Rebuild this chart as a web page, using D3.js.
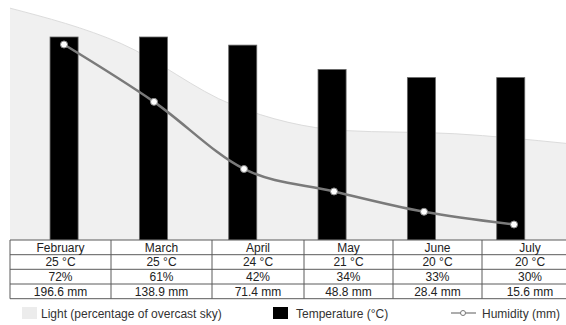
<!DOCTYPE html>
<html><head><meta charset="utf-8">
<script src="https://cdn.jsdelivr.net/npm/d3@7"></script>
<style>body{margin:0;background:#fff}svg{display:block;font-family:"Liberation Sans",Arial,sans-serif}</style>
</head><body>
<svg id="c" width="566" height="325"></svg>
<script>
const months = ["February","March","April","May","June","July"];
const temperature = [25,25,24,21,20,20];
const light = [72,61,42,34,33,30];
const humidity = [196.6,138.9,71.4,48.8,28.4,15.6];
const tempLabels = ["25 °C","25 °C","24 °C","21 °C","20 °C","20 °C"];
const lightLabels = ["72%","61%","42%","34%","33%","30%"];
const humLabels = ["196.6 mm","138.9 mm","71.4 mm","48.8 mm","28.4 mm","15.6 mm"];

const svg = d3.select("#c");
const base = 240;
const xBand = d3.scaleBand().domain(months).range([19.4,555.4]).paddingInner(0.686).paddingOuter(0.343);
const xLine = d3.scalePoint().domain(months).range([64,514]);
const xArea = d3.scalePoint().domain(months).range([10,566]);
const yT = d3.scaleLinear().domain([0,30]).range([base, base-8.12*30]);
const yH = d3.scaleLinear().domain([0,240]).range([base, base-0.9945*240]);
const yL = d3.scaleLinear().domain([0,74]).range([base, base-3.22*74]);

// light area
const area = d3.area().x((d,i)=>xArea(months[i])).y0(base).y1(d=>yL(d)).curve(d3.curveMonotoneX);
svg.append("path").datum(light).attr("d",area).attr("fill","#f0f0f0");
svg.append("path").datum(light)
  .attr("d",d3.line().x((d,i)=>xArea(months[i])).y(d=>yL(d)).curve(d3.curveMonotoneX))
  .attr("fill","none").attr("stroke","#dcdcdc").attr("stroke-width",1);

// bars
svg.selectAll("rect.bar").data(temperature).join("rect").attr("class","bar")
  .attr("x",(d,i)=>xBand(months[i])).attr("width",xBand.bandwidth())
  .attr("y",d=>yT(d)).attr("height",d=>base-yT(d))
  .attr("fill","#000").attr("stroke","#666").attr("stroke-width",0.8);

// humidity line
svg.append("path").datum(humidity)
  .attr("d",d3.line().x((d,i)=>xLine(months[i])).y(d=>yH(d)).curve(d3.curveMonotoneX))
  .attr("fill","none").attr("stroke","#7a7a7a").attr("stroke-width",2.5);
svg.selectAll("circle.pt").data(humidity).join("circle").attr("class","pt")
  .attr("cx",(d,i)=>xLine(months[i])).attr("cy",d=>yH(d)).attr("r",3.5)
  .attr("fill","#fff").attr("stroke","#888").attr("stroke-width",1);

// table
const colEdges = [10,111,212,304,393,482,578];
const rowEdges = [240,254.7,269.3,284,298.7];
const rows = [months,tempLabels,lightLabels,humLabels];
const tbl = svg.append("g");
tbl.append("rect").attr("x",10).attr("y",base).attr("width",570).attr("height",rowEdges[4]-base).attr("fill","#fff");
rowEdges.forEach(y=>tbl.append("line").attr("x1",10).attr("x2",578).attr("y1",y).attr("y2",y).attr("stroke","#5a5a5a").attr("stroke-width",1));
colEdges.forEach(x=>tbl.append("line").attr("x1",x).attr("x2",x).attr("y1",base).attr("y2",rowEdges[4]).attr("stroke","#5a5a5a").attr("stroke-width",1));
rows.forEach((r,ri)=>{
  r.forEach((t,ci)=>{
    tbl.append("text").attr("x",(colEdges[ci]+colEdges[ci+1])/2)
      .attr("y",(rowEdges[ri]+rowEdges[ri+1])/2).attr("dy","0.36em")
      .attr("text-anchor","middle").attr("font-size",12).attr("fill","#222").text(t);
  });
});

// legend
const lg = svg.append("g").attr("font-size",12).attr("fill","#333");
lg.append("rect").attr("x",22).attr("y",307).attr("width",15).attr("height",12).attr("fill","#ececec");
lg.append("text").attr("x",41).attr("y",313.5).attr("dy","0.36em").text("Light (percentage of overcast sky)");
lg.append("rect").attr("x",273).attr("y",307).attr("width",15).attr("height",12).attr("fill","#000");
lg.append("text").attr("x",296).attr("y",313.5).attr("dy","0.36em").text("Temperature (°C)");
lg.append("line").attr("x1",451).attr("x2",476).attr("y1",313).attr("y2",313).attr("stroke","#777").attr("stroke-width",1.2);
lg.append("circle").attr("cx",463).attr("cy",313).attr("r",2.5).attr("fill","#fff").attr("stroke","#777");
lg.append("text").attr("x",482).attr("y",313.5).attr("dy","0.36em").text("Humidity (mm)");
</script>
</body></html>
